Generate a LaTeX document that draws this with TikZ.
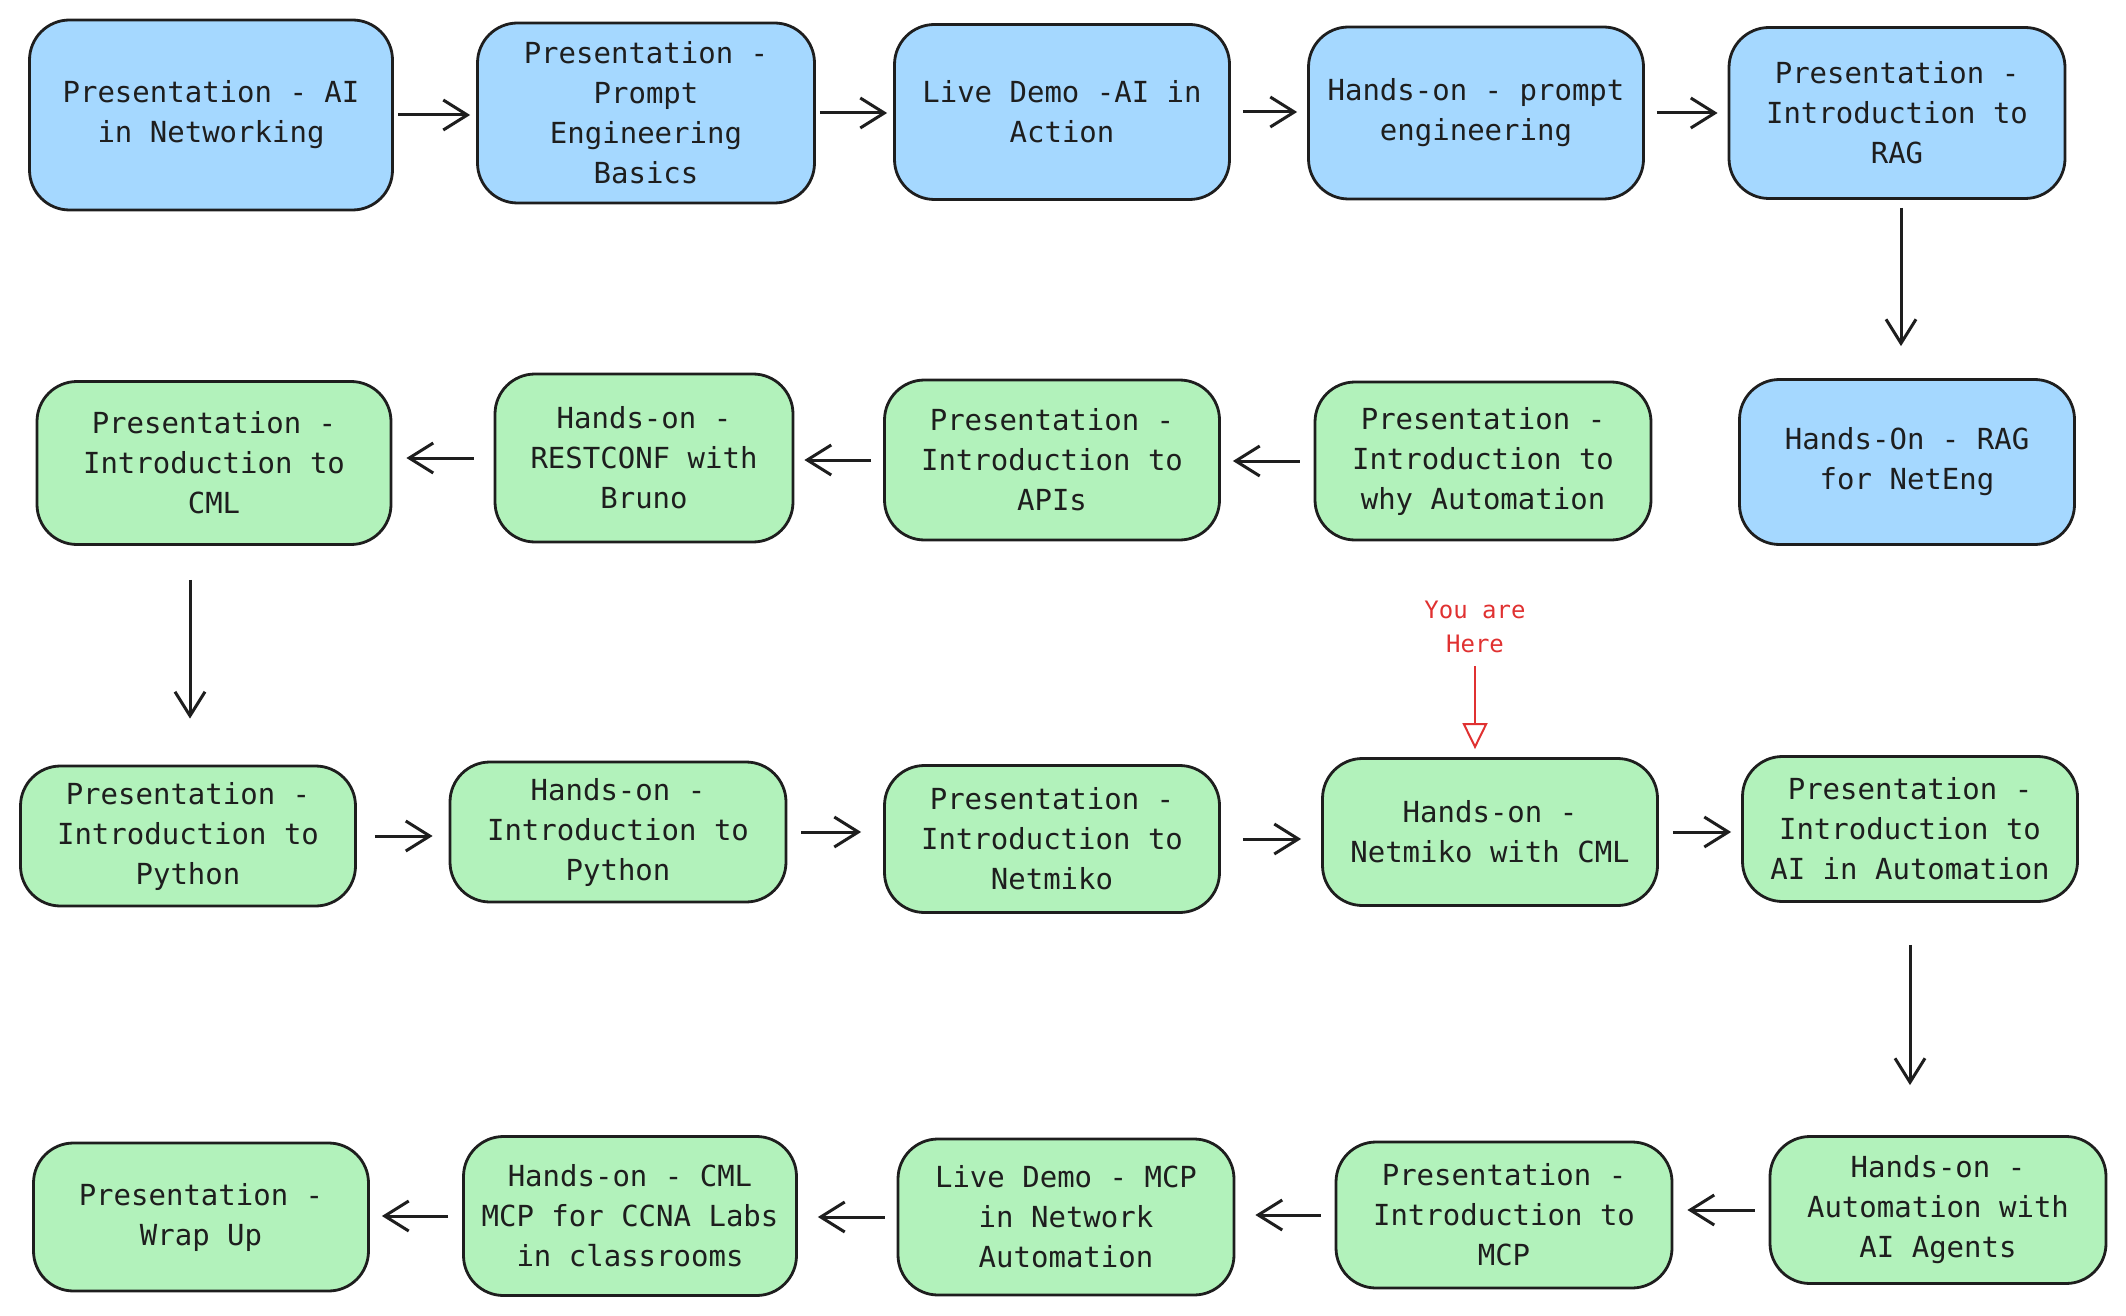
\documentclass[tikz,border=0pt]{standalone}
\usepackage{fontspec}
\setmonofont{DejaVu Sans Mono}
\usetikzlibrary{arrows.meta}
\definecolor{stageblue}{HTML}{A5D8FF}
\definecolor{stagegreen}{HTML}{B2F2BB}
\definecolor{inkgray}{HTML}{1E1E1E}
\definecolor{herered}{HTML}{E03131}
\begin{document}
\begin{tikzpicture}[x=0.5pt,y=-0.5pt]
    \tikzstyle{stage}=[draw=inkgray, line width=1.4pt, rounded corners=20pt, align=center, inner sep=2pt,
        text=inkgray, font=\ttfamily\fontsize{14.5}{20}\selectfont]
    \tikzstyle{blue stage}=[stage, fill=stageblue]
    \tikzstyle{green stage}=[stage, fill=stagegreen]
    \tikzstyle{flow}=[draw=inkgray, line width=1.5pt, -{Straight Barb[length=12pt,width=15pt,line width=1.5pt]}]
    \useasboundingbox (0,0) rectangle (2126,1316);
    \node [blue stage, minimum width=181.5pt, minimum height=95pt] (ai) at (211,115) {Presentation - AI\\in Networking};
    \node [blue stage, minimum width=168.5pt, minimum height=90pt] (prompt) at (646,113) {Presentation -\\Prompt\\Engineering\\Basics};
    \node [blue stage, minimum width=167.5pt, minimum height=87.5pt] (demo) at (1062,112) {Live Demo -AI in\\Action};
    \node [blue stage, minimum width=167.5pt, minimum height=86pt] (handsprompt) at (1476,113) {Hands-on - prompt\\engineering};
    \node [blue stage, minimum width=168pt, minimum height=85.5pt] (rag) at (1897,113) {Presentation -\\Introduction to\\RAG};
    \node [blue stage, minimum width=167.5pt, minimum height=82.5pt] (handsrag) at (1907,462) {Hands-On - RAG\\for NetEng};
    \node [green stage, minimum width=168pt, minimum height=79pt] (why) at (1483,461) {Presentation -\\Introduction to\\why Automation};
    \node [green stage, minimum width=167.5pt, minimum height=80pt] (apis) at (1052,460) {Presentation -\\Introduction to\\APIs};
    \node [green stage, minimum width=149pt, minimum height=84pt] (restconf) at (644,458) {Hands-on -\\RESTCONF with\\Bruno};
    \node [green stage, minimum width=177pt, minimum height=81.5pt] (cml) at (214,463) {Presentation -\\Introduction to\\CML};
    \node [green stage, minimum width=167.5pt, minimum height=70pt] (python) at (188,836) {Presentation -\\Introduction to\\Python};
    \node [green stage, minimum width=168pt, minimum height=70pt] (handspython) at (618,832) {Hands-on -\\Introduction to\\Python};
    \node [green stage, minimum width=167.5pt, minimum height=73.5pt] (netmiko) at (1052,839) {Presentation -\\Introduction to\\Netmiko};
    \node [green stage, minimum width=167.5pt, minimum height=73.5pt] (handsnetmiko) at (1490,832) {Hands-on -\\Netmiko with CML};
    \node [green stage, minimum width=167.5pt, minimum height=72.5pt] (aiauto) at (1910,829) {Presentation -\\Introduction to\\AI in Automation};
    \node [green stage, minimum width=168pt, minimum height=73.5pt] (agents) at (1938,1210) {Hands-on -\\Automation with\\AI Agents};
    \node [green stage, minimum width=168pt, minimum height=73pt] (mcp) at (1504,1215) {Presentation -\\Introduction to\\MCP};
    \node [green stage, minimum width=168pt, minimum height=78pt] (demomcp) at (1066,1217) {Live Demo - MCP\\in Network\\Automation};
    \node [green stage, minimum width=166.5pt, minimum height=79.5pt] (ccna) at (630,1216) {Hands-on - CML\\MCP for CCNA Labs\\in classrooms};
    \node [green stage, minimum width=167.5pt, minimum height=74pt] (wrapup) at (201,1217) {Presentation -\\Wrap Up};
    \node [align=center, text=herered, font=\ttfamily\fontsize{12}{17}\selectfont] (here) at (1475,627) {You are\\Here};
    \draw [flow, shorten <=2pt, shorten >=3pt] (ai.east) -- (ai.east -| prompt.west);
    \draw [flow, shorten <=2pt, shorten >=3pt] (prompt.east) -- (prompt.east -| demo.west);
    \draw [flow, shorten <=6pt, shorten >=5pt] (demo.east) -- (demo.east -| handsprompt.west);
    \draw [flow, shorten <=6pt, shorten >=5pt] (handsprompt.east) -- (handsprompt.east -| rag.west);
    \draw [flow, shorten <=4pt, shorten >=16pt] ([xshift=2pt]rag.south) -- ([xshift=2pt]rag.south |- handsrag.north);
    \draw [flow, shorten <=7pt, shorten >=6pt] (why.west) -- (why.west -| apis.east);
    \draw [flow, shorten <=6pt, shorten >=5pt] (apis.west) -- (apis.west -| restconf.east);
    \draw [flow, shorten <=10pt, shorten >=7pt] (restconf.west) -- (restconf.west -| cml.east);
    \draw [flow, shorten <=17pt, shorten >=23pt] ([xshift=-12pt]cml.south) -- ([xshift=-12pt]cml.south |- python.north);
    \draw [flow, shorten <=9pt, shorten >=8pt] (python.east) -- (python.east -| handspython.west);
    \draw [flow, shorten <=7pt, shorten >=11pt] (handspython.east) -- (handspython.east -| netmiko.west);
    \draw [flow, shorten <=11pt, shorten >=10pt] (netmiko.east) -- (netmiko.east -| handsnetmiko.west);
    \draw [flow, shorten <=7pt, shorten >=5pt] (handsnetmiko.east) -- (handsnetmiko.east -| aiauto.west);
    \draw [flow, shorten <=21pt, shorten >=25pt] (aiauto.south) -- (aiauto.south |- agents.north);
    \draw [flow, shorten <=7pt, shorten >=7pt] (agents.west) -- (agents.west -| mcp.east);
    \draw [flow, shorten <=7pt, shorten >=10pt] (mcp.west) -- (mcp.west -| demomcp.east);
    \draw [flow, shorten <=6pt, shorten >=10pt] (demomcp.west) -- (demomcp.west -| ccna.east);
    \draw [flow, shorten <=7pt, shorten >=6pt] (ccna.west) -- (ccna.west -| wrapup.east);
    \draw [draw=herered, line width=1pt, -{Triangle[open, length=13pt, width=12.5pt, line width=1pt]}, shorten <=3pt, shorten >=4pt] (here.south) -- (here.south |- handsnetmiko.north);
\end{tikzpicture}
\end{document}
